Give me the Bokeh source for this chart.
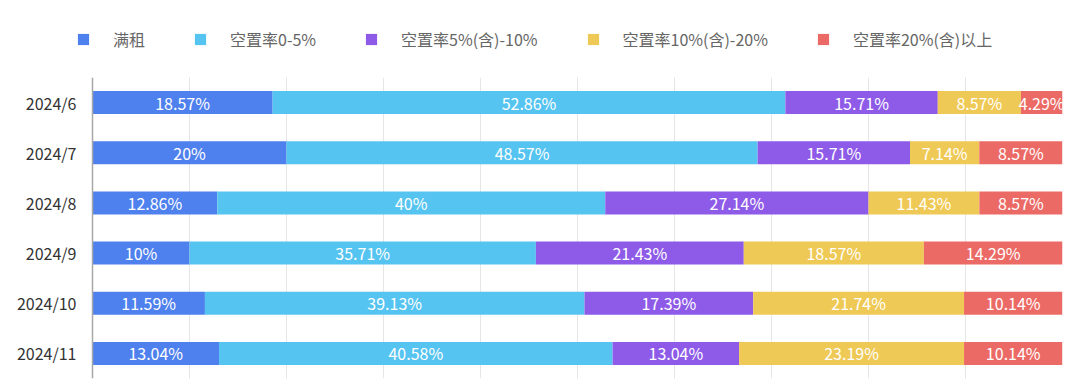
from bokeh.plotting import figure
from bokeh.layouts import column
from bokeh.models import ColumnDataSource, FactorRange, Range1d, SingleIntervalTicker, Legend, LegendItem, Span
from bokeh.core.properties import value
from bokeh.embed import file_html
from bokeh.resources import INLINE

months = ["2024/6", "2024/7", "2024/8", "2024/9", "2024/10", "2024/11"]
series = ["满租", "空置率0-5%", "空置率5%(含)-10%", "空置率10%(含)-20%", "空置率20%(含)以上"]
full = [18.57, 20, 12.86, 10, 11.59, 13.04]
v0_5 = [52.86, 48.57, 40, 35.71, 39.13, 40.58]
v5_10 = [15.71, 15.71, 27.14, 21.43, 17.39, 13.04]
v10_20 = [8.57, 7.14, 11.43, 18.57, 21.74, 23.19]
v20 = [4.29, 8.57, 8.57, 14.29, 10.14, 10.14]
colors = ["#4F81EE", "#56C4F0", "#8E5BE8", "#EFC955", "#EC6A66"]

FONT = "Noto Sans CJK SC"
keys = ["s0", "s1", "s2", "s3", "s4"]
vals = [full, v0_5, v5_10, v10_20, v20]

data = {"month": months}
for k, v in zip(keys, vals):
    data[k] = v
src = ColumnDataSource(data)

# frame spans the full width; value 0 sits 92px from the left edge
PX_PER_UNIT = 970 / 100.0
X0 = -92 / PX_PER_UNIT

# ---- main chart ----
p = figure(width=1072, height=307, output_backend="svg", toolbar_location=None,
           y_range=FactorRange(factors=list(reversed(months))),
           x_range=Range1d(X0, 100),
           min_border_left=0, min_border_right=10, min_border_bottom=6, min_border_top=0)

rends = p.hbar_stack(keys, y="month", height=0.46, source=src, color=colors, line_color=None)

def fmt(v):
    s = ("%.2f" % v).rstrip("0").rstrip(".")
    return s + "%"

lx, ly, lt = [], [], []
for i, m in enumerate(months):
    cum = 0
    for v in vals:
        row = v[i]
        lx.append(cum + row / 2)
        ly.append(m)
        lt.append(fmt(row))
        cum += row
lsrc = ColumnDataSource(dict(x=lx, y=ly, t=lt))
p.text(x="x", y="y", text="t", source=lsrc, text_color="white", text_font=value(FONT),
       text_font_size="16px", text_align="center", text_baseline="middle")

# category labels (y axis)
csrc = ColumnDataSource(dict(y=months, t=months, x=[-16 / PX_PER_UNIT] * len(months)))
p.text(x="x", y="y", text="t", source=csrc, text_color="#333333", text_font=value(FONT),
       text_font_size="16px", text_align="right", text_baseline="middle")

p.xaxis.visible = False
p.yaxis.visible = False
p.xgrid.ticker = SingleIntervalTicker(interval=10)
p.xgrid.grid_line_color = "#E6E6E6"
p.ygrid.grid_line_color = None
p.outline_line_color = None
p.add_layout(Span(location=0, dimension="height", line_color="#A8A8A8", line_width=1.5))

# ---- legend strip ----
lf = figure(width=1072, height=77, output_backend="svg", toolbar_location=None,
            x_range=Range1d(0, 1), y_range=Range1d(0, 1),
            min_border_left=0, min_border_right=0, min_border_top=0, min_border_bottom=0)
lf.axis.visible = False
lf.grid.visible = False
lf.outline_line_color = None
proxy = ColumnDataSource(dict(y=[-10], right=[1]))
items = []
for s, c in zip(series, colors):
    r = lf.hbar(y="y", right="right", source=proxy, height=0.5, color=c, line_color=None)
    items.append(LegendItem(label=s, renderers=[r]))
legend = Legend(items=items, orientation="horizontal", location=(76, 26),
                glyph_width=14, glyph_height=14, label_standoff=23, spacing=48,
                label_text_font=FONT, label_text_font_size="16px", label_text_color="#666666",
                label_height=20,
                border_line_color=None, background_fill_color=None, padding=0, margin=0)
lf.add_layout(legend)

layout = column(lf, p, spacing=0)
open("out.html", "w").write(file_html(layout, INLINE))
